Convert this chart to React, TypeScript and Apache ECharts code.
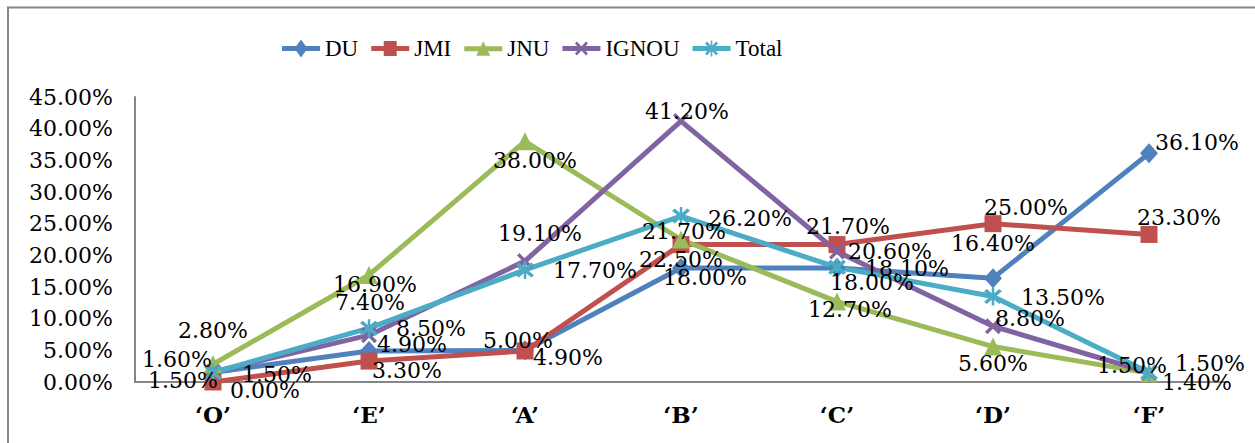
import React, { useEffect, useRef } from "react";
import * as echarts from "echarts";

const categories = ["‘O’", "‘E’", "‘A’", "‘B’", "‘C’", "‘D’", "‘F’"];
const seriesNames = ["DU", "JMI", "JNU", "IGNOU", "Total"];
const du = [1.5, 4.9, 5.0, 18.0, 18.0, 16.4, 36.1];
const jmi = [0.0, 3.3, 4.9, 21.7, 21.7, 25.0, 23.3];
const jnu = [2.8, 16.9, 38.0, 22.5, 12.7, 5.6, 1.4];
const ignou = [1.6, 7.4, 19.1, 41.2, 20.6, 8.8, 1.5];
const total = [1.5, 8.5, 17.7, 26.2, 18.1, 13.5, 1.5];
const yTicks = { min: 0, max: 45, interval: 5 };

// label offsets (dx, dy) from each point, in pixels
const duOffsets = [[-30, 8], [43, -6], [-7, -10], [24, 9], [35, 14], [0, -35], [48, -11]];
const jmiOffsets = [[52, 8], [38, 9], [43, 7], [3, -13], [11, -18], [33, -16], [30, -17]];
const jnuOffsets = [[0, -34], [6, 10], [10, 19], [0, 20], [13, 8], [0, 17], [48, 9]];
const ignouOffsets = [[-36, -12], [1, -33], [15, -28], [6, -10], [53, 0], [37, -8], [-17, -7]];
const totalOffsets = [[64, 2], [62, 0], [70, 1], [69, 2], [70, 1], [70, 1], [61, -9]];

const colors = ["#4F81BD", "#C0504D", "#9BBB59", "#8064A2", "#4BACC6"];
const crossPts = [
  [1.5, 0], [5, 3.5], [8.5, 0], [10, 1.5], [6.5, 5], [10, 8.5],
  [8.5, 10], [5, 6.5], [1.5, 10], [0, 8.5], [3.5, 5], [0, 1.5],
];
const poly = (pts: number[][], ox: number, oy: number, sx: number, sy: number) =>
  "M" + pts.map((p) => (ox + p[0] * sx).toFixed(2) + "," + (oy + p[1] * sy).toFixed(2)).join(" L") + " Z";

const crossPath = "path://" + poly(crossPts, 0, 0, 1, 1);
const starPath = "path://" + poly(crossPts, 0, 0, 1, 1) + " M4.3,-1 L5.7,-1 L5.7,11 L4.3,11 Z";
const symbols = ["diamond", "rect", "triangle", crossPath, starPath];
const symbolSizes = [[18, 20], 17, 18, 16, 18];

// legend icons: thick line + marker (38 x 18 box)
const bar = "M0,6.5 L38,6.5 L38,11.5 L0,11.5 Z";
const legendIcons = [
  "path://" + bar + " M19,0 L25.5,9 L19,18 L12.5,9 Z",
  "path://" + bar + " M12.5,1.5 L25.5,1.5 L25.5,16.5 L12.5,16.5 Z",
  "path://" + bar + " M19,1.5 L26,16 L12,16 Z",
  "path://" + bar + " " + poly(crossPts, 12.5, 2, 1.3, 1.4),
  "path://" + bar + " " + poly(crossPts, 12.5, 2, 1.3, 1.4) + " M18.2,1 L19.8,1 L19.8,17 L18.2,17 Z",
];

const labelFont = "'DejaVu Serif', serif";

export default function App() {
  const ref = useRef<HTMLDivElement>(null);
  useEffect(() => {
    if (!ref.current) return;
    const chart = echarts.init(ref.current, null, { renderer: "svg" });
    const values = [du, jmi, jnu, ignou, total];
    const offsets = [duOffsets, jmiOffsets, jnuOffsets, ignouOffsets, totalOffsets];
    const series = seriesNames.map((name, si) => ({
      name,
      type: "line",
      data: values[si].map((v, i) => ({
        value: v,
        label: { offset: offsets[si][i] },
      })),
      symbol: symbols[si],
      symbolSize: symbolSizes[si],
      showAllSymbol: true,
      lineStyle: { width: 5, color: colors[si] },
      itemStyle: { color: colors[si] },
      label: {
        show: true,
        position: "inside",
        align: "center",
        verticalAlign: "middle",
        color: "#000",
        fontFamily: labelFont,
        fontSize: 22,
        formatter: (p: any) => Number(p.value).toFixed(2) + "%",
      },
      emphasis: { disabled: true },
    }));
    chart.setOption({
      animation: false,
      color: colors,
      graphic: [
        {
          type: "rect",
          shape: { x: 8, y: 7.5, width: 1400, height: 600 },
          style: { fill: "none", stroke: "#868686", lineWidth: 2 },
          silent: true,
        },
      ],
      legend: {
        left: 277,
        top: 32,
        itemWidth: 38,
        itemHeight: 18,
        itemGap: 13,
        itemStyle: { borderWidth: 0 },
        data: seriesNames.map((n, i) => ({ name: n, icon: legendIcons[i] })),
        textStyle: { fontFamily: "'Liberation Serif', serif", fontSize: 23, color: "#000" },
      },
      grid: { left: 135, right: 28, top: 97, bottom: 61, containLabel: false },
      xAxis: {
        type: "category",
        data: categories,
        boundaryGap: true,
        axisLine: { show: true, lineStyle: { color: "#868686", width: 2 } },
        axisTick: { show: false },
        axisLabel: {
          margin: 21,
          color: "#000",
          fontFamily: labelFont,
          fontWeight: "bold",
          fontSize: 23,
        },
      },
      yAxis: {
        type: "value",
        min: yTicks.min,
        max: yTicks.max,
        interval: yTicks.interval,
        axisLine: { show: true, lineStyle: { color: "#868686", width: 2 } },
        axisTick: { show: false },
        splitLine: { show: false },
        axisLabel: {
          margin: 22,
          color: "#000",
          fontFamily: labelFont,
          fontSize: 22,
          formatter: (v: number) => v.toFixed(2) + "%",
        },
      },
      series,
    });
    return () => chart.dispose();
  }, []);
  return (
    <div
      ref={ref}
      style={{ position: "absolute", left: 0, top: 0, width: 1255, height: 443, background: "#fff" }}
    />
  );
}
